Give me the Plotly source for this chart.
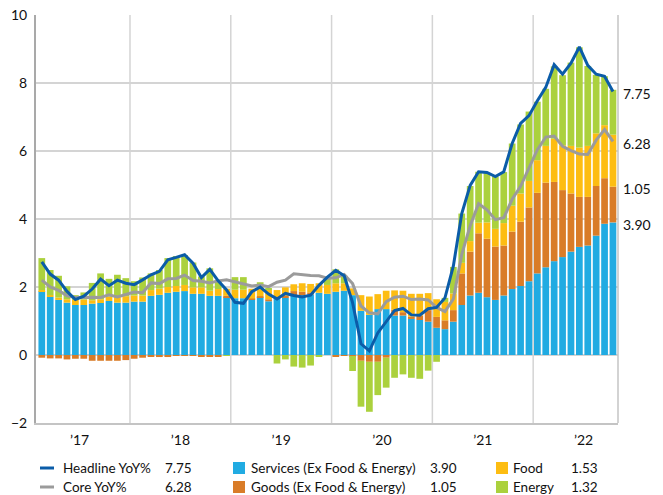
import plotly.graph_objects as go
import pandas as pd

# ---------------- data (Feb 2017 .. Oct 2022, monthly) ----------------
start_month = "2017-02-01"

headline = [2.74, 2.38, 2.20, 1.87, 1.63, 1.73, 1.94, 2.23, 2.04, 2.20, 2.11,
            2.07, 2.21, 2.36, 2.46, 2.80, 2.87, 2.95, 2.70, 2.28, 2.52, 2.18, 1.91,
            1.55, 1.52, 1.86, 2.00, 1.79, 1.65, 1.81, 1.75, 1.71, 1.76, 2.05, 2.29,
            2.49, 2.33, 1.54, 0.33, 0.12, 0.65, 0.99, 1.31, 1.37, 1.18, 1.17, 1.36,
            1.40, 1.68, 2.62, 4.16, 4.99, 5.39, 5.37, 5.25, 5.39, 6.22, 6.81, 7.04,
            7.48, 7.87, 8.54, 8.26, 8.58, 9.06, 8.52, 8.26, 8.20, 7.75]

core = [2.20, 2.00, 1.90, 1.74, 1.69, 1.70, 1.70, 1.69, 1.77, 1.71, 1.78,
        1.85, 1.83, 2.12, 2.10, 2.24, 2.25, 2.35, 2.19, 2.17, 2.12, 2.18, 2.21,
        2.15, 2.09, 2.03, 2.06, 2.01, 2.14, 2.20, 2.39, 2.36, 2.34, 2.33, 2.26,
        2.27, 2.37, 2.10, 1.44, 1.24, 1.21, 1.57, 1.70, 1.73, 1.63, 1.65, 1.62,
        1.40, 1.28, 1.65, 2.96, 3.80, 4.45, 4.27, 3.98, 4.04, 4.58, 4.96, 5.48,
        6.04, 6.41, 6.44, 6.14, 6.01, 5.91, 5.90, 6.32, 6.63, 6.28]

services = [1.88, 1.71, 1.62, 1.54, 1.47, 1.47, 1.51, 1.53, 1.59, 1.54, 1.54,
            1.57, 1.57, 1.74, 1.77, 1.83, 1.86, 1.88, 1.80, 1.80, 1.74, 1.74, 1.70,
            1.67, 1.67, 1.64, 1.70, 1.58, 1.67, 1.69, 1.76, 1.76, 1.78, 1.83, 1.80,
            1.86, 1.89, 1.76, 1.30, 1.18, 1.35, 1.35, 1.16, 1.16, 1.06, 1.03, 0.98,
            0.80, 0.76, 0.98, 1.47, 1.75, 1.83, 1.70, 1.62, 1.75, 1.94, 2.03, 2.17,
            2.40, 2.58, 2.76, 2.88, 3.04, 3.18, 3.22, 3.51, 3.86, 3.90]

goods = [-0.08, -0.10, -0.10, -0.13, -0.11, -0.11, -0.17, -0.17, -0.17, -0.17, -0.15,
         -0.11, -0.08, -0.05, -0.06, -0.06, -0.02, -0.01, -0.02, -0.04, -0.03, -0.03, 0.04,
         0.00, 0.00, 0.02, 0.03, 0.06, 0.00, 0.05, 0.12, 0.10, 0.06, 0.00, 0.00,
         -0.05, -0.02, -0.03, -0.17, -0.20, -0.20, -0.08, 0.17, 0.10, 0.07, 0.13, 0.34,
         0.32, 0.26, 0.34, 0.93, 1.29, 1.75, 1.72, 1.57, 1.47, 1.69, 1.89, 2.17,
         2.37, 2.49, 2.33, 1.97, 1.71, 1.47, 1.43, 1.46, 1.34, 1.05]

food = [0.03, 0.05, 0.07, 0.10, 0.15, 0.16, 0.10, 0.11, 0.13, 0.18, 0.19,
        0.18, 0.18, 0.17, 0.18, 0.17, 0.17, 0.18, 0.19, 0.19, 0.15, 0.20, 0.21,
        0.25, 0.25, 0.29, 0.21, 0.29, 0.24, 0.25, 0.20, 0.25, 0.25, 0.28, 0.26,
        0.25, 0.22, 0.20, 0.46, 0.54, 0.44, 0.54, 0.57, 0.63, 0.67, 0.64, 0.50,
        0.52, 0.54, 0.49, 0.31, 0.31, 0.31, 0.48, 0.52, 0.66, 0.76, 0.83, 0.78,
        0.96, 1.08, 1.27, 1.32, 1.40, 1.45, 1.50, 1.55, 1.56, 1.53]

energy = [0.94, 0.74, 0.64, 0.38, 0.14, 0.21, 0.51, 0.76, 0.52, 0.64, 0.53,
          0.42, 0.53, 0.49, 0.55, 0.85, 0.88, 0.88, 0.73, 0.32, 0.66, 0.27, -0.02,
          0.37, 0.37, 0.00, 0.20, 0.03, -0.25, -0.13, -0.34, -0.37, -0.31, -0.05, 0.23,
          0.41, 0.22, -0.44, -1.35, -1.47, -0.98, -0.88, -0.67, -0.57, -0.67, -0.70, -0.46,
          -0.20, 0.12, 0.78, 1.45, 1.62, 1.50, 1.45, 1.54, 1.50, 1.83, 2.03, 2.04,
          1.72, 1.68, 2.13, 2.06, 2.45, 2.95, 2.35, 1.72, 1.44, 1.32]

year_labels = ["\u201917", "\u201918", "\u201919", "\u201920", "\u201921", "\u201922"]

# legend values shown in the key
legend_values = {"Headline YoY%": 7.75, "Core YoY%": 6.28,
                 "Services (Ex Food & Energy)": 3.90, "Goods (Ex Food & Energy)": 1.05,
                 "Food": 1.53, "Energy": 1.32}

# ---------------- styling ----------------
C_SERV = "#21abe2"
C_GOODS = "#d97c28"
C_FOOD = "#fdbd12"
C_ENERGY = "#abd13d"
C_HEAD = "#0b5ca8"
C_CORE = "#9b9b9b"
GRID = "#d4d4d4"
FONT = "Lato"

months = pd.date_range(start_month, periods=len(headline), freq="MS")
x = list(range(len(months)))

fig = go.Figure()
for name, vals, col in [("Services (Ex Food & Energy)", services, C_SERV),
                        ("Goods (Ex Food & Energy)", goods, C_GOODS),
                        ("Food", food, C_FOOD),
                        ("Energy", energy, C_ENERGY)]:
    fig.add_trace(go.Bar(x=x, y=vals, name=name, marker=dict(color=col, line=dict(width=0)),
                         width=0.8, showlegend=False))

fig.add_trace(go.Scatter(x=x, y=core, mode="lines", name="Core YoY%",
                         line=dict(color=C_CORE, width=3), showlegend=False))
fig.add_trace(go.Scatter(x=x, y=headline, mode="lines", name="Headline YoY%",
                         line=dict(color=C_HEAD, width=3), showlegend=False))

# year boundaries and mid-year tick positions
jan_idx = [i for i, m in enumerate(months) if m.month == 1]
boundaries = [i - 0.5 for i in jan_idx]
first_year_start = jan_idx[0] - 12
year_starts = [first_year_start] + jan_idx
mid_years = [s + 5.5 for s in year_starts]

shapes = []
for b in boundaries:
    shapes.append(dict(type="line", xref="x", yref="paper", x0=b, x1=b, y0=0, y1=1,
                       line=dict(color=GRID, width=1.5), layer="below"))
# right frame
shapes.append(dict(type="line", xref="paper", yref="paper", x0=1, x1=1, y0=0, y1=1,
                   line=dict(color="#c4c4c4", width=1.5), layer="above"))

# figure fills the page (body margin removed below)
W, H = 663, 495
PL, PT, PR, PB = 36, 15, 618, 423      # plot area in pixels
L, T, R, B = PL, PT, W - PR, H - PB
PW, PH = PR - PL, PB - PT


def px(xs):
    return (xs - PL) / PW


def py(ys):
    return (PB - ys) / PH


annotations = []
# right-hand value labels
last = len(x) - 1
right_labels = [(headline[last], headline[last]),
                (core[last], core[last]),
                (services[last] + goods[last], goods[last]),
                (services[last], services[last])]
for ypos, val in right_labels:
    annotations.append(dict(x=1, xref="paper", y=ypos, yref="y", xanchor="left", yanchor="middle",
                            xshift=3, yshift=-2, text=f"{val:.2f}", showarrow=False,
                            font=dict(family=FONT, size=14, color="#111111")))

# key
rows_y = [468, 487]
key = [
    ("line", C_HEAD, "Headline YoY%", 40, 61, 163, 0),
    ("line", C_CORE, "Core YoY%", 40, 61, 163, 1),
    ("box", C_SERV, "Services (Ex Food & Energy)", 233, 249, 428, 0),
    ("box", C_GOODS, "Goods (Ex Food & Energy)", 233, 249, 428, 1),
    ("box", C_FOOD, "Food", 496, 511, 569, 0),
    ("box", C_ENERGY, "Energy", 496, 511, 569, 1),
]
for kind, col, label, sx, tx, vx, r in key:
    yc = rows_y[r]
    if kind == "line":
        shapes.append(dict(type="line", xref="paper", yref="paper", x0=px(sx), x1=px(sx + 14),
                           y0=py(yc), y1=py(yc), line=dict(color=col, width=3)))
    else:
        shapes.append(dict(type="rect", xref="paper", yref="paper", x0=px(sx), x1=px(sx + 12),
                           y0=py(yc - 6), y1=py(yc + 6), line=dict(width=0), fillcolor=col))
    annotations.append(dict(x=px(tx), y=py(yc), xref="paper", yref="paper", xanchor="left",
                            yanchor="middle", text=label, showarrow=False,
                            font=dict(family=FONT, size=13.5, color="#111111")))
    annotations.append(dict(x=px(vx), y=py(yc), xref="paper", yref="paper", xanchor="left",
                            yanchor="middle", text=f"{legend_values[label]:.2f}", showarrow=False,
                            font=dict(family=FONT, size=13.5, color="#111111")))

fig.update_layout(
    width=W, height=H,
    margin=dict(l=L, r=R, t=T, b=B, pad=0, autoexpand=False),
    barmode="relative",
    bargap=0.2,
    plot_bgcolor="white", paper_bgcolor="white",
    font=dict(family=FONT, size=14, color="#111111"),
    showlegend=False,
    shapes=shapes,
    annotations=annotations,
    xaxis=dict(range=[-0.69, len(x) - 0.4], tickmode="array", tickvals=mid_years,
               ticktext=year_labels, showgrid=False, zeroline=False, automargin=False,
               showline=True, linecolor="#c4c4c4", linewidth=1.5,
               ticks="outside", ticklen=3, tickcolor="rgba(0,0,0,0)",
               ticklabeloverflow="allow",
               tickfont=dict(family=FONT, size=14, color="#111111")),
    yaxis=dict(range=[-2, 10], dtick=2, showgrid=True, gridcolor=GRID, gridwidth=1.5,
               zeroline=True, zerolinecolor=GRID, zerolinewidth=1.5, automargin=False,
               showline=True, linecolor="#a9a9a9", linewidth=2,
               ticks="outside", ticklen=4, tickcolor="rgba(0,0,0,0)",
               ticklabeloverflow="allow",
               tickfont=dict(family=FONT, size=14, color="#111111")),
)

fig.write_html("out.html", config={"displayModeBar": False},
               post_script="document.body.style.margin='0';")
